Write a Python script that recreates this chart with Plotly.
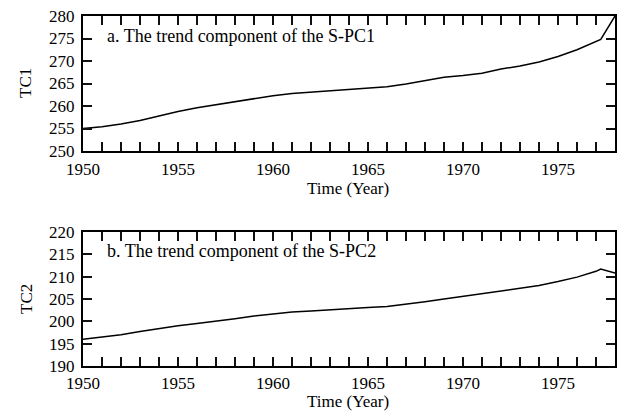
import plotly.graph_objects as go
from plotly.subplots import make_subplots

years = [1950, 1951, 1952, 1953, 1954, 1955, 1956, 1957, 1958, 1959,
         1960, 1961, 1962, 1963, 1964, 1965, 1966, 1967, 1968, 1969,
         1970, 1971, 1972, 1973, 1974, 1975, 1976, 1977, 1977.25, 1978]
tc1 = [255.0, 255.4, 256.0, 256.8, 257.8, 258.8, 259.6, 260.3, 260.9, 261.6,
       262.3, 262.8, 263.1, 263.5, 263.8, 264.0, 264.3, 264.9, 265.7, 266.4,
       266.8, 267.3, 268.2, 268.9, 269.8, 271.0, 272.5, 274.2, 274.8, 280.0]
tc2 = [196.0, 196.5, 197.0, 197.7, 198.4, 199.0, 199.5, 200.0, 200.6, 201.2,
       201.7, 202.1, 202.3, 202.6, 202.9, 203.1, 203.3, 203.8, 204.4, 205.0,
       205.6, 206.1, 206.7, 207.3, 208.0, 208.9, 209.9, 211.2, 211.7, 210.8]

xtick_vals = list(range(1950, 1979))
xtick_text = [str(v) if v % 5 == 0 else "" for v in xtick_vals]
y1_ticks = [250, 255, 260, 265, 270, 275, 280]
y2_ticks = [190, 195, 200, 205, 210, 215, 220]

panel_a = "a. The trend component of the S-PC1"
panel_b = "b. The trend component of the S-PC2"
xtitle = "Time (Year)"

FONT = "Liberation Serif"
W, H = 623, 411
ML, MR, MT, MB = 83, 8, 16, 45
PH = H - MT - MB
PW = W - ML - MR

fig = make_subplots(rows=2, cols=1)
fig.add_trace(go.Scatter(x=years, y=tc1, mode="lines",
                         line=dict(color="black", width=1.5),
                         showlegend=False), row=1, col=1)
fig.add_trace(go.Scatter(x=years, y=tc2, mode="lines",
                         line=dict(color="black", width=1.5),
                         showlegend=False), row=2, col=1)

tickfont = dict(family=FONT, size=17, color="black")

def ax(**kw):
    d = dict(showline=True, linecolor="black", linewidth=2, mirror="allticks",
             ticks="inside", ticklen=9, tickwidth=2, tickcolor="#111111",
             showgrid=False, zeroline=False, tickfont=tickfont)
    d.update(kw)
    return d

top_dom = [1 - 135 / PH, 1]
bot_dom = [0, 134 / PH]

fig.update_layout(
    template="none",
    width=W, height=H,
    margin=dict(l=ML, r=MR, t=MT, b=MB),
    paper_bgcolor="white", plot_bgcolor="white",
    font=dict(family=FONT, size=17, color="black"),
    xaxis=ax(range=[1950, 1978], tickmode="array", tickvals=xtick_vals,
             ticktext=xtick_text, ticklabelstandoff=2),
    xaxis2=ax(range=[1950, 1978], tickmode="array", tickvals=xtick_vals,
              ticktext=xtick_text, ticklabelstandoff=1),
    yaxis=ax(domain=top_dom, range=[250, 280], tickmode="array", tickvals=y1_ticks,
             ticklabelstandoff=3),
    yaxis2=ax(domain=bot_dom, range=[190, 220], tickmode="array", tickvals=y2_ticks,
              ticklabelstandoff=3),
)

def py(y):
    return 1 - (y - MT) / PH

def px(x):
    return (x - ML) / PW

ann_font = dict(family=FONT, size=17, color="black")
panel_font = dict(family=FONT, size=18, color="black")
anns = [
    dict(text=panel_a, x=px(105), y=py(36), xanchor="left", yanchor="middle", font=panel_font),
    dict(text=panel_b, x=px(105), y=py(251), xanchor="left", yanchor="middle", font=panel_font),
    dict(text=xtitle, x=px(348), y=py(188), xanchor="center", yanchor="middle", font=ann_font),
    dict(text=xtitle, x=px(348), y=py(401), xanchor="center", yanchor="middle", font=ann_font),
    dict(text="TC1", x=px(26), y=py(83), xanchor="center", yanchor="middle", textangle=-90, font=ann_font),
    dict(text="TC2", x=px(26), y=py(299), xanchor="center", yanchor="middle", textangle=-90, font=ann_font),
]
for a in anns:
    fig.add_annotation(xref="paper", yref="paper", showarrow=False, **a)

fig.write_html("out.html")
